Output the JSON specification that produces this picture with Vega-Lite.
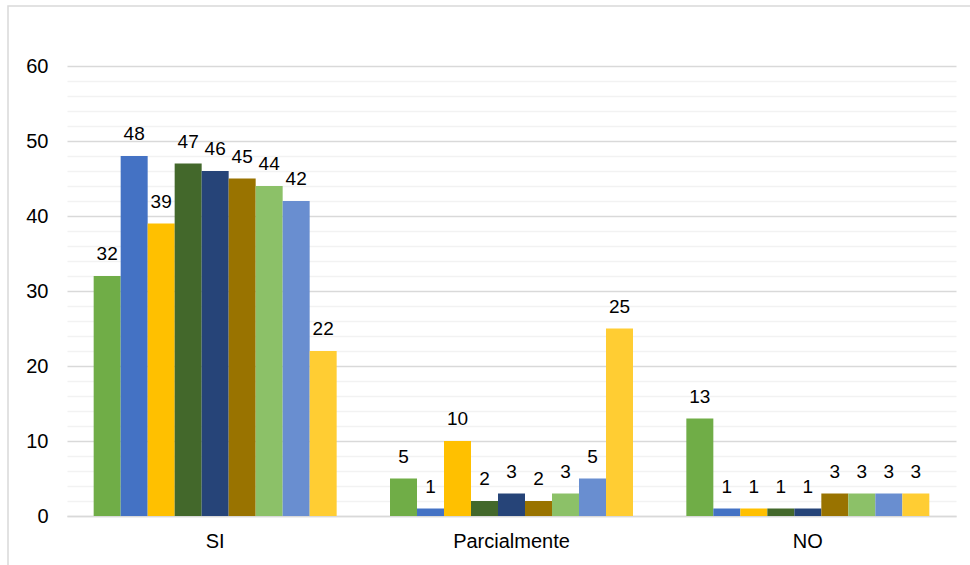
{
  "$schema": "https://vega.github.io/schema/vega-lite/v6.json",
  "autosize": "none",
  "padding": {"left": 8, "top": 6, "right": 0, "bottom": 0},
  "width": 964,
  "height": 561,
  "background": "#ffffff",
  "config": {
    "view": {"stroke": "#D9D9D9", "strokeWidth": 1.5},
    "font": "Liberation Sans"
  },
  "data": {
    "values": [
      {"cat": "SI", "serie": "Serie 1", "valor": 32},
      {"cat": "SI", "serie": "Serie 2", "valor": 48},
      {"cat": "SI", "serie": "Serie 3", "valor": 39},
      {"cat": "SI", "serie": "Serie 4", "valor": 47},
      {"cat": "SI", "serie": "Serie 5", "valor": 46},
      {"cat": "SI", "serie": "Serie 6", "valor": 45},
      {"cat": "SI", "serie": "Serie 7", "valor": 44},
      {"cat": "SI", "serie": "Serie 8", "valor": 42},
      {"cat": "SI", "serie": "Serie 9", "valor": 22},
      {"cat": "Parcialmente", "serie": "Serie 1", "valor": 5},
      {"cat": "Parcialmente", "serie": "Serie 2", "valor": 1},
      {"cat": "Parcialmente", "serie": "Serie 3", "valor": 10},
      {"cat": "Parcialmente", "serie": "Serie 4", "valor": 2},
      {"cat": "Parcialmente", "serie": "Serie 5", "valor": 3},
      {"cat": "Parcialmente", "serie": "Serie 6", "valor": 2},
      {"cat": "Parcialmente", "serie": "Serie 7", "valor": 3},
      {"cat": "Parcialmente", "serie": "Serie 8", "valor": 5},
      {"cat": "Parcialmente", "serie": "Serie 9", "valor": 25},
      {"cat": "NO", "serie": "Serie 1", "valor": 13},
      {"cat": "NO", "serie": "Serie 2", "valor": 1},
      {"cat": "NO", "serie": "Serie 3", "valor": 1},
      {"cat": "NO", "serie": "Serie 4", "valor": 1},
      {"cat": "NO", "serie": "Serie 5", "valor": 1},
      {"cat": "NO", "serie": "Serie 6", "valor": 3},
      {"cat": "NO", "serie": "Serie 7", "valor": 3},
      {"cat": "NO", "serie": "Serie 8", "valor": 3},
      {"cat": "NO", "serie": "Serie 9", "valor": 3}
    ]
  },
  "encoding": {
    "x": {
      "field": "cat",
      "type": "nominal",
      "sort": ["SI", "Parcialmente", "NO"],
      "scale": {"range": [59, 948], "paddingInner": 0.18, "paddingOuter": 0.09},
      "axis": {
        "title": null,
        "labelAngle": 0,
        "ticks": false,
        "grid": false,
        "domainColor": "#D9D9D9",
        "domainWidth": 1.5,
        "offset": -51,
        "labelPadding": 15,
        "labelFont": "Liberation Sans",
        "labelFontSize": 20,
        "labelColor": "#000000"
      }
    },
    "xOffset": {
      "field": "serie",
      "type": "nominal",
      "scale": {"paddingInner": 0, "paddingOuter": 0}
    },
    "y": {
      "field": "valor",
      "type": "quantitative",
      "scale": {"domain": [0, 60], "range": [510, 60], "nice": false, "zero": true},
      "axis": {
        "title": null,
        "values": [0, 2, 4, 6, 8, 10, 12, 14, 16, 18, 20, 22, 24, 26, 28, 30, 32, 34, 36, 38, 40, 42, 44, 46, 48, 50, 52, 54, 56, 58, 60],
        "labelExpr": "datum.value % 10 === 0 ? datum.label : ''",
        "domain": false,
        "ticks": false,
        "tickSize": 0,
        "offset": -59,
        "labelPadding": 19,
        "labelFont": "Liberation Sans",
        "labelFontSize": 20,
        "labelColor": "#000000",
        "gridColor": {"condition": {"test": "datum.value % 10 === 0", "value": "#D9D9D9"}, "value": "#F2F2F2"},
        "gridWidth": {"condition": {"test": "datum.value % 10 === 0", "value": 1.5}, "value": 1.3}
      }
    }
  },
  "layer": [
    {
      "mark": {"type": "bar"},
      "encoding": {
        "color": {
          "field": "serie",
          "type": "nominal",
          "legend": null,
          "scale": {
            "domain": ["Serie 1", "Serie 2", "Serie 3", "Serie 4", "Serie 5", "Serie 6", "Serie 7", "Serie 8", "Serie 9"],
            "range": ["#70AD47", "#4472C4", "#FFC000", "#43682B", "#264478", "#997300", "#8CC168", "#698ED0", "#FFCD33"]
          }
        }
      }
    },
    {
      "mark": {"type": "text", "baseline": "alphabetic", "dy": -16, "fontSize": 19, "font": "Liberation Sans", "color": "#000000"},
      "encoding": {
        "text": {"field": "valor", "type": "quantitative"}
      }
    }
  ]
}
